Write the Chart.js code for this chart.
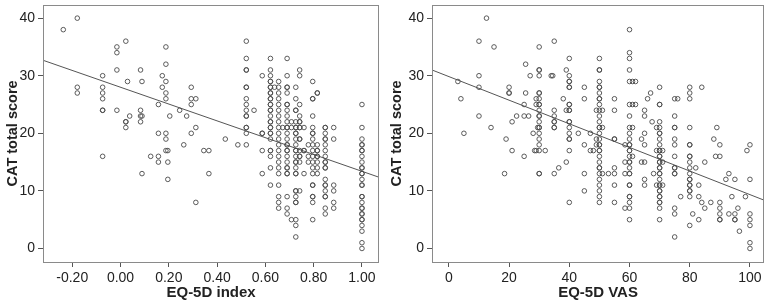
<!DOCTYPE html>
<html>
<head>
<meta charset="utf-8">
<script src="https://cdn.jsdelivr.net/npm/chart.js@4.4.1/dist/chart.umd.min.js"></script>
<style>
  body { margin: 0; background: #fff; }
  .wrap { display: flex; width: 769px; height: 305px; }
  canvas { display: block; }
</style>
</head>
<body>
<div class="wrap">
  <canvas id="index" width="384" height="305"></canvas>
  <canvas id="vas" width="385" height="305"></canvas>
</div>
<script>
// EQ-5D index values (columns) and the CAT scores seen at each one
const indexLevels = [-0.237, -0.179, -0.074, -0.015, 0.022, 0.029, 0.038, 0.083, 0.089, 0.125,
  0.157, 0.173, 0.188, 0.196, 0.204, 0.245, 0.262, 0.274, 0.293, 0.312,
  0.345, 0.366, 0.434, 0.486, 0.521, 0.553, 0.587, 0.621, 0.638, 0.655,
  0.672, 0.69, 0.708, 0.726, 0.742, 0.76, 0.778, 0.796, 0.815, 0.848,
  0.883, 1.0];
const indexScores = [
  [38], [40, 28, 27], [30, 28, 27, 26, 24, 24, 16], [35, 34, 31, 24], [36, 22, 22, 21], [29], [23],
  [31, 24, 23, 22], [29, 23, 13], [16],
  [25, 20, 16, 15], [30, 28], [35, 32, 29, 27, 26, 20, 19, 17], [17, 15, 12], [23], [24], [18], [23],
  [28, 26, 25, 20], [26, 21, 8],
  [17], [17, 13], [19], [18], [36, 33, 31, 31, 28, 28, 26, 25, 24, 23, 23, 21, 21, 20, 18], [24],
  [30, 20, 20, 17, 13],
  [33, 31, 30, 29, 29, 28, 28, 27, 27, 26, 26, 25, 25, 24, 24, 23, 22, 22, 21, 21, 20, 20, 19, 17, 17, 16, 14, 11],
  [28],
  [29, 28, 27, 26, 25, 24, 23, 22, 21, 20, 19, 18, 17, 16, 15, 14, 13, 11, 9, 8, 7],
  [21],
  [33, 30, 28, 28, 27, 25, 25, 24, 23, 22, 21, 21, 20, 19, 18, 18, 17, 17, 16, 15, 14, 14, 13, 13, 9, 7, 6],
  [22, 21, 5],
  [28, 26, 24, 24, 22, 21, 21, 20, 20, 19, 18, 17, 17, 16, 15, 15, 14, 13, 13, 10, 10, 9, 8, 8, 5, 4, 2],
  [31, 30, 25, 23, 22, 22, 21, 21, 19, 19, 17, 16, 16, 15, 10],
  [21, 17, 17, 13], [18, 16, 15],
  [29, 26, 26, 23, 21, 20, 20, 19, 18, 17, 16, 15, 14, 13, 11, 11, 9, 9, 8, 5],
  [27, 27, 18, 17, 17, 16, 16, 15, 14, 13],
  [21, 21, 20, 19, 19, 18, 17, 16, 15, 15, 14, 14, 12, 11, 11, 10, 9, 9, 7, 6],
  [21, 19, 11, 10, 8, 7],
  [25, 21, 19, 18, 18, 17, 17, 16, 15, 14, 14, 13, 13, 12, 11, 11, 9, 9, 8, 7, 7, 6, 6, 5, 5, 4, 3, 1, 0]
];

// EQ-5D VAS values (columns) and the CAT scores at each
const vasLevels = [3, 4, 5, 10, 12.5, 14, 15, 18.5, 19, 20, 21, 22.5, 25, 25.5, 26.5, 27, 28, 28.5, 29, 29.5,
  30, 32, 34, 34.5, 35, 36.5, 38, 39, 40, 43, 45, 47, 48, 49, 50, 51, 53, 55, 58.5, 60,
  61, 62, 64, 65, 66, 67, 67.5, 68, 69, 70, 71, 75, 76, 77, 80, 81, 82, 83, 84, 85,
  87, 88, 88.6, 89, 90, 92, 93, 94, 95, 96, 96.5, 98.5, 99, 100];
const vasScores = [
  [29], [26], [20], [36, 30, 28, 23], [40], [21], [35], [13], [19], [28, 27, 27], [22, 17], [23],
  [25, 23, 16], [32, 27], [23], [30], [20], [17], [26, 25, 17], [21],
  [35, 31, 31, 30, 27, 27, 26, 25, 25, 24, 23, 23, 22, 21, 21, 20, 19, 18, 17, 13, 13],
  [17], [30], [30], [36, 24, 23, 22, 22, 21, 21, 13], [14], [26], [31, 24, 15],
  [33, 30, 29, 29, 28, 28, 25, 25, 24, 24, 22, 22, 21, 20, 19, 19, 17, 8],
  [20], [28, 26, 18, 13, 10], [20, 17], [17], [24, 19, 18],
  [33, 31, 31, 29, 28, 28, 27, 26, 26, 25, 24, 23, 22, 21, 21, 20, 19, 18, 18, 17, 17, 16, 15, 14, 14, 13, 12, 11, 10, 9, 8],
  [24, 21, 13], [13], [26, 24, 19, 19, 14, 13, 11, 8], [18, 15, 13, 7],
  [38, 34, 33, 31, 29, 25, 23, 21, 20, 19, 18, 18, 17, 17, 16, 15, 15, 14, 13, 13, 11, 11, 9, 9, 8, 7, 5],
  [29, 25, 21, 16], [29, 25], [19, 15], [24, 23, 20, 18, 15, 12, 11], [26], [27], [22], [13], [21, 17, 11],
  [28, 25, 25, 22, 21, 20, 20, 19, 18, 17, 17, 16, 16, 15, 15, 14, 14, 13, 13, 12, 11, 11, 10, 10, 9, 9, 8, 8, 7, 5],
  [17, 15, 11], [26, 23, 21, 21, 19, 18, 16, 14, 14, 13, 13, 7, 6, 2], [26], [9],
  [28, 27, 26, 21, 18, 18, 16, 16, 15, 14, 13, 12, 12, 11, 11, 10, 10, 9, 4],
  [6], [14], [11, 9, 5], [28, 8], [15, 7], [8], [19], [16], [21], [18, 16, 8, 7, 6, 5, 5], [12], [13, 6],
  [9], [12, 6, 5, 5], [7], [3], [9], [17], [18, 12, 6, 5, 4, 1, 0]
];

// fitted lines: [intercept, slope]
const indexFit = [28.0, -14.6];
const vasFit = [29.85, -0.205];

const indexTicks = [-0.2, 0, 0.2, 0.4, 0.6, 0.8, 1.0];
const vasTicks = [0, 20, 40, 60, 80, 100];
const scoreTicks = [0, 10, 20, 30, 40];

const indexRange = [-0.321, 1.071];
const vasRange = [-5.6, 104.7];
const scoreRange = [-2.35, 42.3];

const family = "'Liberation Sans', Arial, sans-serif";

const frame = {
  id: "frame",
  afterDatasetsDraw(chart) {
    const { ctx, chartArea: a } = chart;
    ctx.save();
    ctx.strokeStyle = "#8a8a8a";
    ctx.lineWidth = 1;
    ctx.strokeRect(Math.round(a.left) + 0.5, Math.round(a.top) + 0.5,
      Math.round(a.right - a.left) - 1, Math.round(a.bottom - a.top));
    ctx.restore();
  },
};

function toPoints(levels, scores) {
  return levels.flatMap((x, i) => scores[i].map((y) => ({ x, y })));
}

function makeChart(id, points, fit, xRange, xTicks, fmt, xTitle, yWidth, padRight) {
  const ctx = document.getElementById(id).getContext("2d");
  return new Chart(ctx, {
    type: "scatter",
    data: {
      datasets: [
        {
          data: points,
          pointStyle: "circle",
          pointRadius: 2.3,
          borderColor: "#4a4a4a",
          borderWidth: 0.9,
          backgroundColor: "rgba(0,0,0,0)",
        },
        {
          type: "line",
          data: xRange.map((x) => ({ x, y: fit[0] + fit[1] * x })),
          borderColor: "#555",
          borderWidth: 1,
          pointRadius: 0,
          fill: false,
        },
      ],
    },
    options: {
      responsive: false,
      animation: false,
      devicePixelRatio: 1,
      layout: { padding: { top: 1, right: padRight, left: 0, bottom: 0 } },
      plugins: { legend: { display: false }, tooltip: { enabled: false } },
      scales: {
        x: {
          type: "linear",
          min: xRange[0],
          max: xRange[1],
          afterBuildTicks: (s) => { s.ticks = xTicks.map((v) => ({ value: v })); },
          afterFit: (s) => { s.height = 43; s.paddingLeft = 0; s.paddingRight = 0; },
          ticks: { callback: fmt, autoSkip: false, maxRotation: 0, padding: 3, color: "#222", font: { family, size: 14 } },
          grid: { drawOnChartArea: false, tickLength: 5, color: "#555" },
          border: { display: false },
          title: { display: true, text: xTitle, color: "#222", padding: { top: 0, bottom: 3 }, font: { family, size: 15, weight: "bold" } },
        },
        y: {
          min: scoreRange[0],
          max: scoreRange[1],
          afterBuildTicks: (s) => { s.ticks = scoreTicks.map((v) => ({ value: v })); },
          afterFit: (s) => { s.width = yWidth; s.paddingTop = 0; s.paddingBottom = 0; },
          ticks: { autoSkip: false, padding: 3, color: "#222", font: { family, size: 14 } },
          grid: { drawOnChartArea: false, tickLength: 5, color: "#555" },
          border: { display: false },
          title: { display: true, text: "CAT total score", color: "#222", padding: { top: 4, bottom: 0 }, font: { family, size: 14.5, weight: "bold" } },
        },
      },
    },
    plugins: [frame],
  });
}

const indexChart = makeChart("index", toPoints(indexLevels, indexScores), indexFit, indexRange,
  indexTicks, (v) => v.toFixed(2), "EQ-5D index", 43, 4);
const vasChart = makeChart("vas", toPoints(vasLevels, vasScores), vasFit, vasRange,
  vasTicks, (v) => String(v), "EQ-5D VAS", 48, 3);
</script>
</body>
</html>
